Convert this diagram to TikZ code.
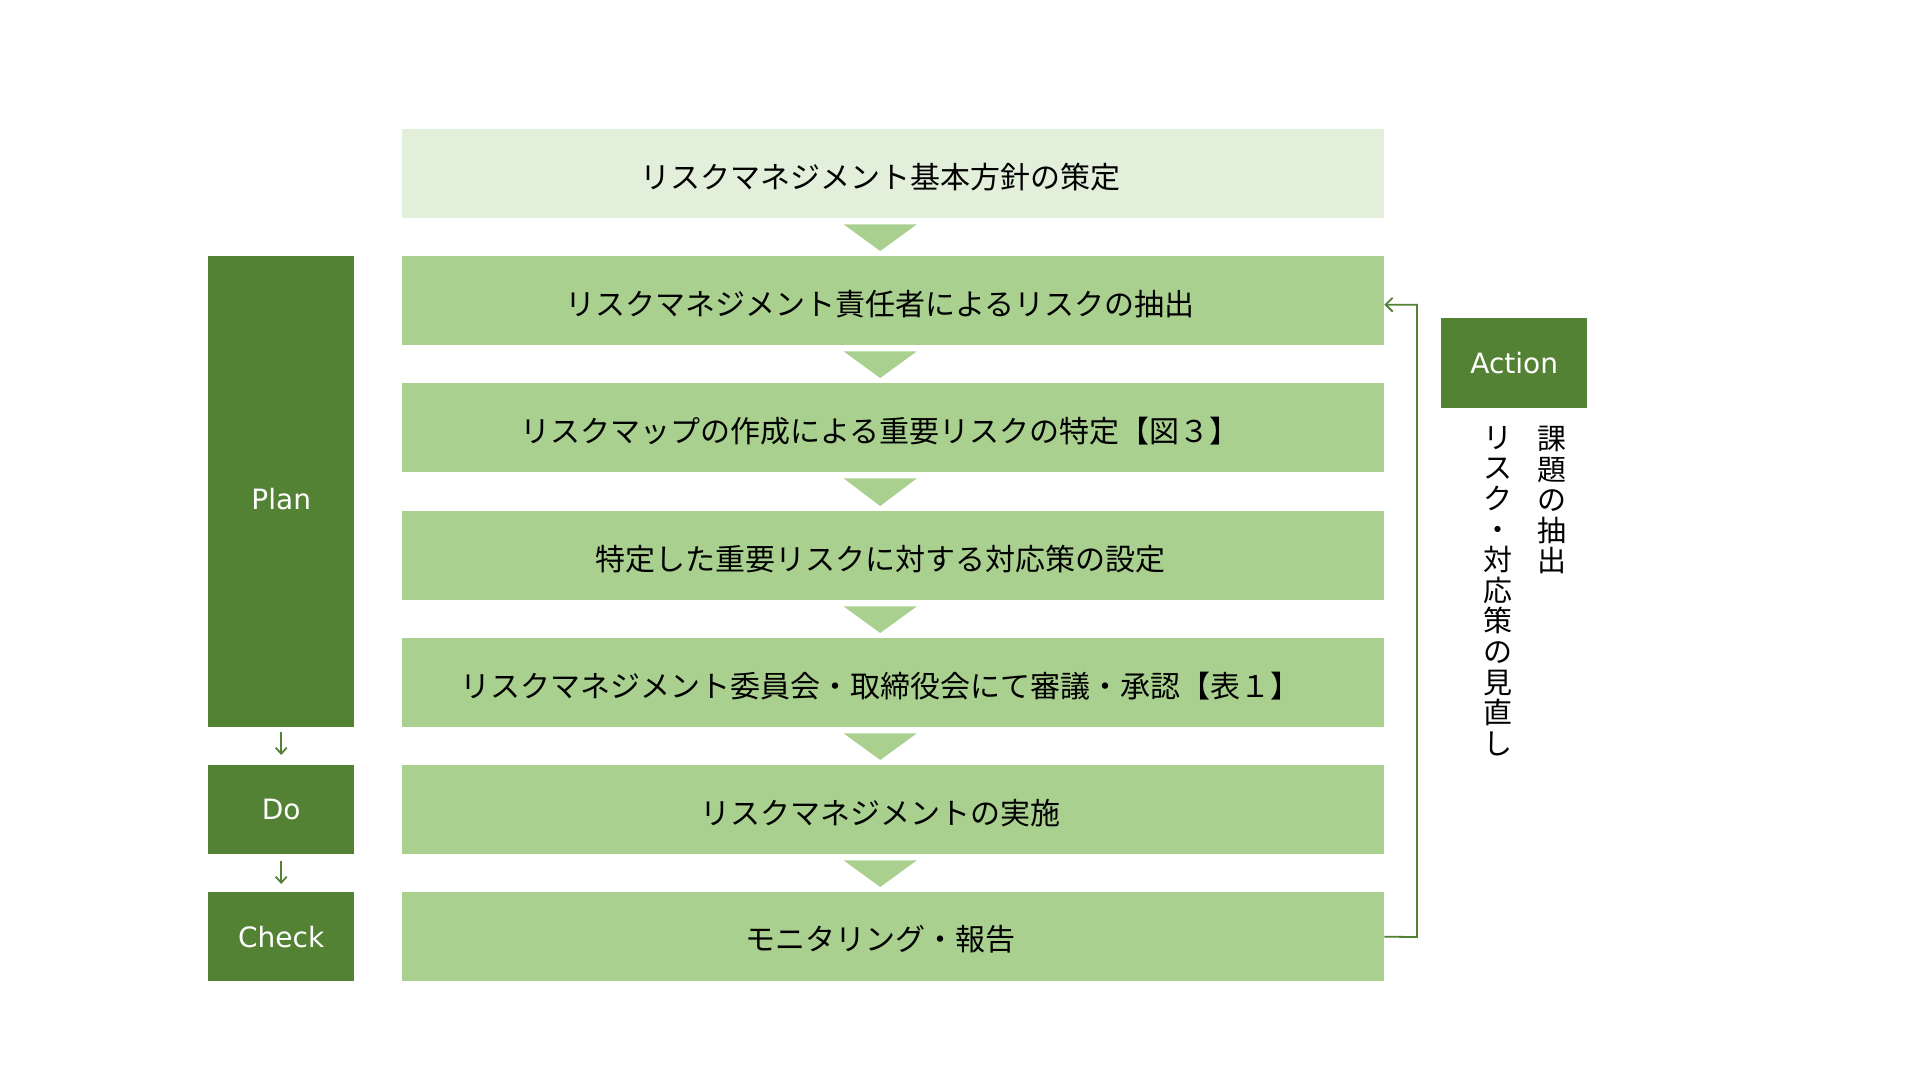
\documentclass[tikz,border=0pt]{standalone}
\usepackage{fontspec}
\setmainfont{Noto Sans CJK JP}
\newfontfamily\latinfont{DejaVu Sans}
\usetikzlibrary{arrows.meta}
\definecolor{lightg}{HTML}{E2EFDA}
\definecolor{midg}{HTML}{A9D08E}
\definecolor{darkg}{HTML}{548235}
\begin{document}
\begin{tikzpicture}[x=1pt,y=-1pt,
  stepbox/.style={fill=midg, minimum width=982pt, minimum height=89pt, inner sep=0pt, anchor=north west},
  boxtext/.style={font=\fontsize{30}{35}\selectfont, inner sep=0pt, text=black},
  pdca/.style={fill=darkg, minimum width=146pt, inner sep=0pt, anchor=north west},
  pdcatext/.style={text=white, font=\latinfont\fontsize{28}{32}\selectfont, inner sep=0pt},
  tri/.style={fill=midg},
  small/.style={draw=darkg, line width=1.8pt, -{Straight Barb[length=6pt,width=11pt]}},
  fb/.style={draw=darkg, line width=1.8pt, -{Straight Barb[length=7pt,width=14pt]}},
  vtext/.style={font=\fontsize{29}{30.6}\selectfont, align=center, inner sep=0pt, anchor=north}
]
\useasboundingbox (0,0) rectangle (1920,1080);
\fill[white] (0,0) rectangle (1920,1080);

% main steps
\node[stepbox, fill=lightg] (b1) at (402,129) {};
\node[stepbox] (b2) at (402,256) {};
\node[stepbox] (b3) at (402,383) {};
\node[stepbox] (b4) at (402,511) {};
\node[stepbox] (b5) at (402,638) {};
\node[stepbox] (b6) at (402,765) {};
\node[stepbox] (b7) at (402,892) {};

\node[boxtext] (t1) at ([xshift=-13pt,yshift=-3pt]b1.center) {リスクマネジメント基本方針の策定};
\node[boxtext] (t2) at ([xshift=-13pt,yshift=-3pt]b2.center) {リスクマネジメント責任者によるリスクの抽出};
\node[boxtext] (t3) at ([xshift=-13pt,yshift=-3pt]b3.center) {リスクマップの作成による重要リスクの特定【図３】};
\node[boxtext] (t4) at ([xshift=-13pt,yshift=-3pt]b4.center) {特定した重要リスクに対する対応策の設定};
\node[boxtext] (t5) at ([xshift=-13pt,yshift=-3pt]b5.center) {リスクマネジメント委員会・取締役会にて審議・承認【表１】};
\node[boxtext] (t6) at ([xshift=-13pt,yshift=-3pt]b6.center) {リスクマネジメントの実施};
\node[boxtext] (t7) at ([xshift=-13pt,yshift=-3pt]b7.center) {モニタリング・報告};

% triangles between steps
\foreach \a/\b in {b1/b2,b2/b3,b3/b4,b4/b5,b5/b6,b6/b7}{
  \fill[tri] ([xshift=-49.5pt,yshift=-6pt]\a.south) -- ([xshift=23.5pt,yshift=-6pt]\a.south) -- ([xshift=-13pt,yshift=5pt]\b.north) -- cycle;
}

% PDCA labels
\node[pdca, minimum height=471pt] (plan) at (208,256) {};
\node[pdca, minimum height=89pt] (do) at (208,765) {};
\node[pdca, minimum height=89pt] (check) at (208,892) {};
\node[pdca, minimum height=90pt] (action) at (1441,318) {};
\node[pdcatext] (planl) at ([yshift=-7pt]plan.center) {Plan};
\node[pdcatext] (dol) at (do.center) {Do};
\node[pdcatext] (checkl) at (check.center) {Check};
\node[pdcatext] (actionl) at (action.center) {Action};

\draw[small] ([yshift=-5pt]plan.south) -- ([yshift=10pt]do.north);
\draw[small] ([yshift=-7pt]do.south) -- ([yshift=8pt]check.north);

% feedback
\coordinate (fbr) at (1417,937);
\draw[fb] (b7.east) -- (fbr) |- ([yshift=-4pt]b2.east);

% vertical texts
\node[vtext] (v1) at (1552,426) {課\\題\\の\\抽\\出};
\node[vtext] (v2) at (1498,426) {リ\\ス\\ク\\・\\対\\応\\策\\の\\見\\直\\し};
\end{tikzpicture}
\end{document}
